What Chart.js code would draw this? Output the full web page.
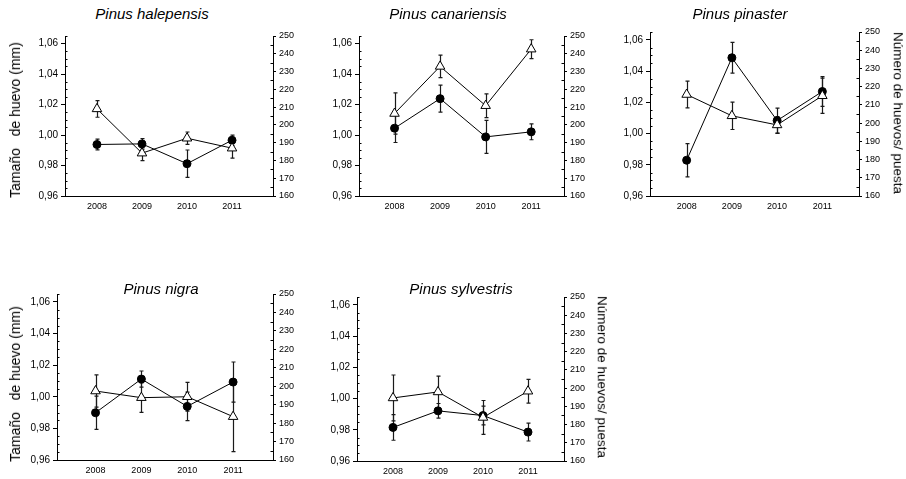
<!DOCTYPE html>
<html><head><meta charset="utf-8">
<script src="https://cdn.jsdelivr.net/npm/chart.js@4.4.0/dist/chart.umd.min.js"></script>
<style>
html,body{margin:0;padding:0;background:#fff;}
body{width:906px;height:479px;position:relative;overflow:hidden;font-family:"Liberation Sans",Arial,sans-serif;}
canvas{position:absolute;}
.lbl{position:absolute;white-space:pre;color:#000;line-height:1;}
.ttl{font-style:italic;font-size:15px;transform:translate(-50%,-50%);}
.axl{font-size:14px;transform:translate(-50%,-50%) rotate(-90deg);}
.axr{font-size:13.5px;transform:translate(-50%,-50%) rotate(90deg);}
</style></head><body>
<script>
// ---- data ----
const years = [2008, 2009, 2010, 2011];
const speciesNames = ['Pinus halepensis', 'Pinus canariensis', 'Pinus pinaster', 'Pinus nigra', 'Pinus sylvestris'];
const leftTickValues = [0.96, 0.98, 1.00, 1.02, 1.04, 1.06];
const leftTickLabels = ['0,96', '0,98', '1,00', '1,02', '1,04', '1,06'];
const rightTickValues = [160, 170, 180, 190, 200, 210, 220, 230, 240, 250];
const rightTickLabels = ['160', '170', '180', '190', '200', '210', '220', '230', '240', '250'];
const leftAxisTitle = 'Tamaño   de huevo (mm)';
const rightAxisTitle = 'Número de huevos/ puesta';

// egg size (mm) – filled circles, left axis ; egg number per clutch – open triangles, right axis
const sizeHalepensis = [0.9938, 0.9942, 0.9812, 0.9966];
const sizeErrHalepensis = [0.0035, 0.0035, 0.0090, 0.0033];
const numHalepensis = [209.0, 184.1, 192.5, 186.9];
const numErrHalepensis = [4.7, 4.2, 3.5, 5.6];

const sizeCanariensis = [1.0045, 1.0239, 0.9988, 1.0021];
const sizeErrCanariensis = [0.0094, 0.0089, 0.0108, 0.0052];
const numCanariensis = [206.4, 232.9, 210.8, 242.6];
const numErrCanariensis = [11.6, 6.3, 6.7, 5.3];

const sizePinaster = [0.9829, 1.0485, 1.0083, 1.0269];
const sizeErrPinaster = [0.0106, 0.0098, 0.0080, 0.0095];
const numPinaster = [215.7, 204.0, 199.0, 215.0];
const numErrPinaster = [7.3, 7.5, 4.6, 9.7];

const sizeNigra = [0.9899, 1.0112, 0.9939, 1.0093];
const sizeErrNigra = [0.0105, 0.0051, 0.0090, 0.0127];
const numNigra = [197.4, 193.8, 194.3, 183.5];
const numErrNigra = [8.7, 8.0, 7.8, 19.0];

const sizeSylvestris = [0.9815, 0.9921, 0.9891, 0.9785];
const sizeErrSylvestris = [0.0082, 0.0047, 0.0060, 0.0057];
const numSylvestris = [194.6, 197.9, 183.9, 198.3];
const numErrSylvestris = [12.6, 8.7, 9.3, 6.5];

// ---- layout of the five panels ----
const panels = [
  {name: speciesNames[0], size: sizeHalepensis, sizeErr: sizeErrHalepensis, num: numHalepensis, numErr: numErrHalepensis,
   area: {l: 65, r: 273, t: 36, b: 196}, xMin: 2007.29, xMax: 2011.91, title: [152, 13], left: [15, 120]},
  {name: speciesNames[1], size: sizeCanariensis, sizeErr: sizeErrCanariensis, num: numCanariensis, numErr: numErrCanariensis,
   area: {l: 359, r: 564, t: 36, b: 196}, xMin: 2007.22, xMax: 2011.72, title: [448, 13]},
  {name: speciesNames[2], size: sizePinaster, sizeErr: sizeErrPinaster, num: numPinaster, numErr: numErrPinaster,
   area: {l: 650, r: 859, t: 32, b: 196}, xMin: 2007.19, xMax: 2011.81, title: [740, 13], right: [898, 113]},
  {name: speciesNames[3], size: sizeNigra, sizeErr: sizeErrNigra, num: numNigra, numErr: numErrNigra,
   area: {l: 57, r: 273, t: 294, b: 460}, xMin: 2007.16, xMax: 2011.87, title: [161, 288], left: [15, 384]},
  {name: speciesNames[4], size: sizeSylvestris, sizeErr: sizeErrSylvestris, num: numSylvestris, numErr: numErrSylvestris,
   area: {l: 357, r: 564, t: 297, b: 461}, xMin: 2007.2, xMax: 2011.8, title: [461, 288], right: [602, 377]}
];

const PADL = 60, PADR = 40, PADT = 10, PADB = 25;

const errorBars = {
  id: 'errorBars',
  beforeDatasetsDraw(chart) {
    const ctx = chart.ctx;
    chart.data.datasets.forEach((ds, di) => {
      const meta = chart.getDatasetMeta(di);
      const ys = chart.scales[ds.yAxisID];
      ctx.save();
      ctx.strokeStyle = '#1a1a1a';
      ctx.lineWidth = 1.2;
      meta.data.forEach((pt, i) => {
        const v = ds.data[i].y, e = ds.errors[i];
        const yTop = ys.getPixelForValue(v + e), yBot = ys.getPixelForValue(v - e);
        const x = Math.round(pt.x) + 0.5;
        ctx.beginPath();
        ctx.moveTo(x, yTop); ctx.lineTo(x, yBot);
        ctx.moveTo(x - 2, yTop); ctx.lineTo(x + 2, yTop);
        ctx.moveTo(x - 2, yBot); ctx.lineTo(x + 2, yBot);
        ctx.stroke();
      });
      ctx.restore();
    });
  },
  afterDraw(chart) {
    const ctx = chart.ctx;
    const yl = chart.scales.yL, yr = chart.scales.yR;
    ctx.save();
    ctx.strokeStyle = '#000';
    ctx.lineWidth = 1;
    ctx.beginPath();
    for (let k = 1; k <= 21; k++) {
      if (k % 4 === 0) continue;
      const v = 0.96 + k * 0.005;
      const y = Math.round(yl.getPixelForValue(v)) + 0.5;
      const x = Math.round(yl.right);
      ctx.moveTo(x, y); ctx.lineTo(x + 2.5, y);
    }
    for (let v = 165; v < 250; v += 10) {
      const y = Math.round(yr.getPixelForValue(v)) + 0.5;
      const x = Math.round(yr.left);
      ctx.moveTo(x, y); ctx.lineTo(x - 2.5, y);
    }
    ctx.stroke();
    ctx.restore();
  }
};

function addLabel(cls, text, pos) {
  const d = document.createElement('div');
  d.className = 'lbl ' + cls;
  d.textContent = text;
  d.style.left = pos[0] + 'px';
  d.style.top = pos[1] + 'px';
  document.body.appendChild(d);
}

panels.forEach(p => {
  const a = p.area;
  const W = (a.r - a.l) + PADL + PADR;
  const H = (a.b - a.t) + PADT + PADB;
  const cv = document.createElement('canvas');
  cv.width = W; cv.height = H;
  cv.style.left = (a.l - PADL) + 'px';
  cv.style.top = (a.t - PADT) + 'px';
  cv.style.width = W + 'px'; cv.style.height = H + 'px';
  document.body.appendChild(cv);

  new Chart(cv, {
    type: 'line',
    data: {
      datasets: [
        {
          label: 'Número de huevos/ puesta',
          data: years.map((yr, i) => ({x: yr, y: p.num[i]})),
          errors: p.numErr,
          yAxisID: 'yR', order: 0,
          borderColor: '#000', borderWidth: 1,
          pointStyle: 'triangle', pointRadius: 5.5, pointBackgroundColor: '#fff',
          pointBorderColor: '#000', pointBorderWidth: 1, tension: 0
        },
        {
          label: 'Tamaño de huevo (mm)',
          data: years.map((yr, i) => ({x: yr, y: p.size[i]})),
          errors: p.sizeErr,
          yAxisID: 'yL', order: 1,
          borderColor: '#000', borderWidth: 1,
          pointStyle: 'circle', pointRadius: 4, pointBackgroundColor: '#000',
          pointBorderColor: '#000', pointBorderWidth: 1, tension: 0
        }
      ]
    },
    options: {
      responsive: false, animation: false, devicePixelRatio: 1,
      layout: {padding: {top: PADT, left: 0, right: 0, bottom: 0}},
      plugins: {legend: {display: false}, title: {display: false}, tooltip: {enabled: false}},
      scales: {
        x: {
          type: 'linear', min: p.xMin, max: p.xMax,
          afterBuildTicks: s => { s.ticks = years.map(v => ({value: v})); },
          afterFit: s => { s.height = PADB; },
          grid: {display: false, drawTicks: false},
          border: {display: true, color: '#000', width: 1},
          ticks: {color: '#000', padding: 5, font: {family: 'Liberation Sans', size: 9},
                  maxRotation: 0, autoSkip: false, callback: v => String(v)}
        },
        yL: {
          type: 'linear', position: 'left', min: 0.96, max: 1.065,
          afterBuildTicks: s => { s.ticks = leftTickValues.map(v => ({value: v})); },
          afterFit: s => { s.width = PADL; },
          grid: {display: true, drawOnChartArea: false, drawTicks: true, tickLength: 4, color: '#000', tickColor: '#000'},
          border: {display: true, color: '#000', width: 1},
          ticks: {color: '#000', padding: 3, font: {family: 'Liberation Sans', size: 10}, autoSkip: false,
                  callback: (v, i) => leftTickLabels[i]}
        },
        yR: {
          type: 'linear', position: 'right', min: 160, max: 250,
          afterBuildTicks: s => { s.ticks = rightTickValues.map(v => ({value: v})); },
          afterFit: s => { s.width = PADR; },
          grid: {display: true, drawOnChartArea: false, drawTicks: true, tickLength: 3, color: '#000', tickColor: '#000'},
          border: {display: true, color: '#000', width: 1},
          ticks: {color: '#000', padding: 3, font: {family: 'Liberation Sans', size: 9}, autoSkip: false,
                  callback: (v, i) => rightTickLabels[i]}
        }
      }
    },
    plugins: [errorBars]
  });

  addLabel('ttl', p.name, p.title);
  if (p.left) addLabel('axl', leftAxisTitle, p.left);
  if (p.right) addLabel('axr', rightAxisTitle, p.right);
});
</script>
</body></html>
